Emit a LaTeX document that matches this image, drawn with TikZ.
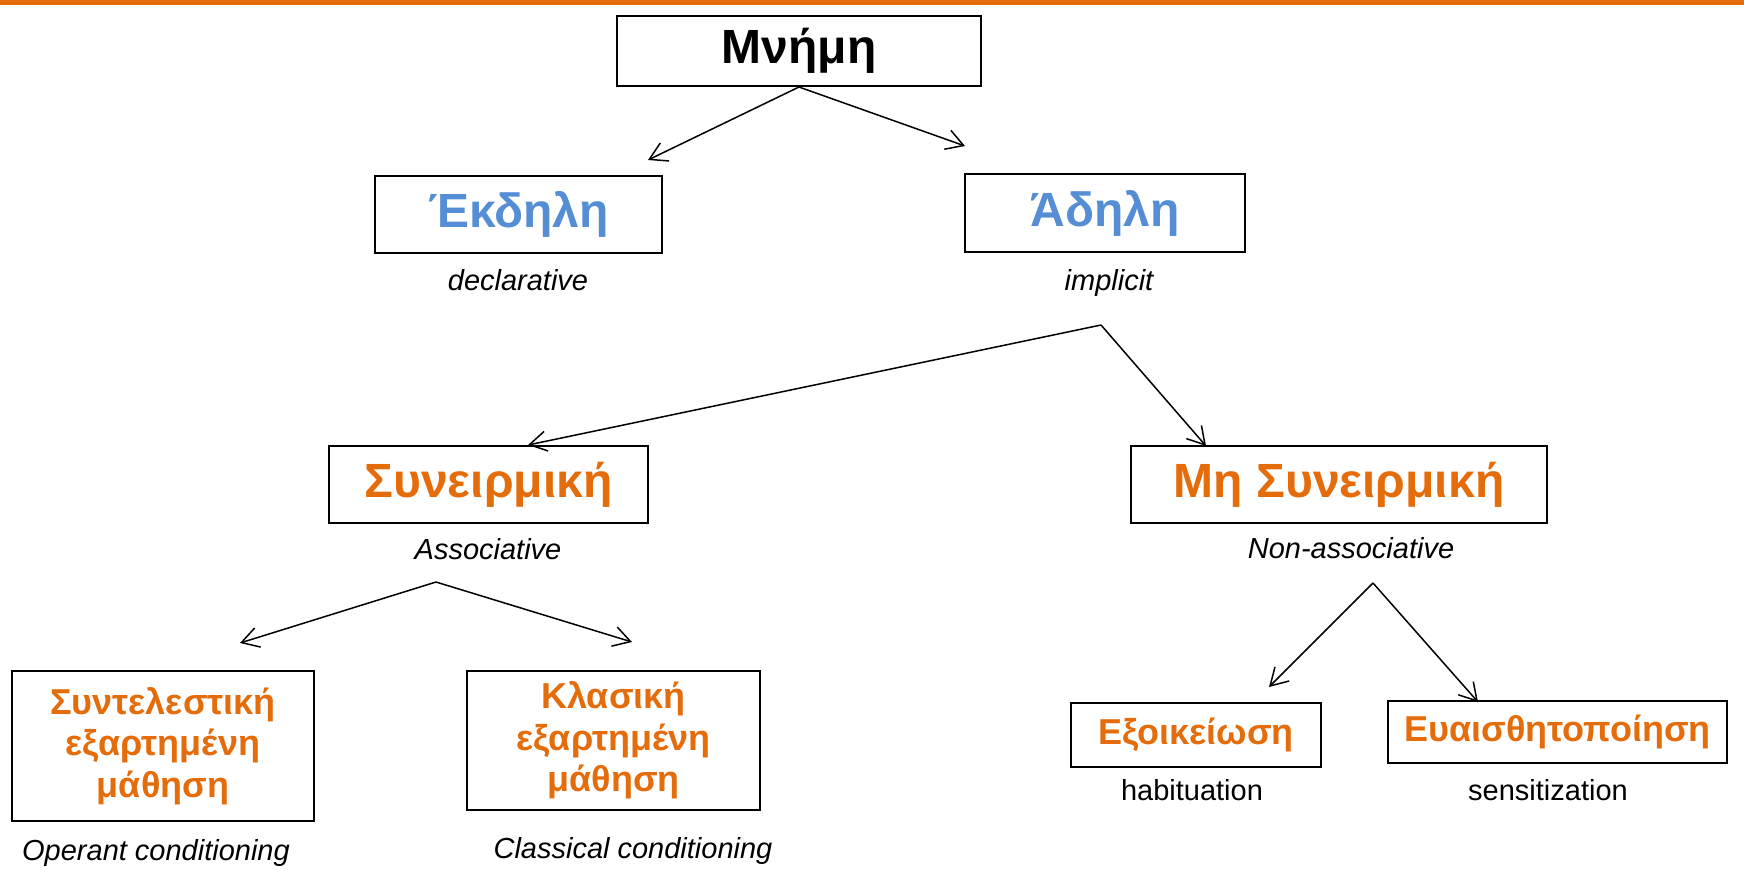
\documentclass[tikz,border=0pt]{standalone}
\usepackage{fontspec}
\setmainfont{Liberation Sans}
\usetikzlibrary{arrows.meta}
\definecolor{accent}{HTML}{E46C0A}
\definecolor{skyblue}{HTML}{558ED5}
\tikzset{
  box/.style={draw,line width=1pt,inner sep=0pt,align=center,font=\bfseries\fontsize{24}{28}\selectfont},
  smallbox/.style={box,font=\bfseries\fontsize{18}{20.8}\selectfont},
  lbl/.style={anchor=base,inner sep=0pt,font=\itshape\fontsize{14.5}{17}\selectfont},
  plainlbl/.style={lbl,font=\fontsize{14.5}{17}\selectfont},
  link/.style={line width=0.75pt,-{Straight Barb[length=8.5pt,width=10pt]}}
}
\begin{document}
\begin{tikzpicture}[x=0.5pt,y=-0.5pt]
\useasboundingbox (0,0) rectangle (1744,869);
\fill[accent] (0,0) rectangle (1744,4.5);

\node[box,minimum width=182pt,minimum height=35pt] (mnimi) at (799,51) {Μνήμη};
\node[box,text=skyblue,minimum width=143.5pt,minimum height=38.5pt] (ekdili) at (518.5,214.5) {Έκδηλη};
\node[box,text=skyblue,minimum width=140pt,minimum height=39pt] (adili) at (1105,213) {Άδηλη};
\node[lbl] (decl) at (518,290) {declarative};
\node[lbl] (impl) at (1109,290) {implicit};

\node[box,text=accent,minimum width=159.5pt,minimum height=38.5pt] (syn) at (488.5,484.5) {Συνειρμική};
\node[box,text=accent,minimum width=208pt,minimum height=38.5pt] (misyn) at (1339,484.5) {Μη Συνειρμική};
\node[lbl] (assoc) at (488,559) {Associative};
\node[lbl] (nonassoc) at (1351,558) {Non-associative};

\node[smallbox,text=accent,minimum width=151pt,minimum height=75pt] (syntel) at (163,746) {Συντελεστική\\εξαρτημένη\\μάθηση};
\node[smallbox,text=accent,minimum width=146.5pt,minimum height=69.5pt] (klasiki) at (613.5,740.5) {Κλασική\\εξαρτημένη\\μάθηση};
\node[lbl] (operant) at (156,860) {Operant conditioning};
\node[lbl] (classical) at (633,858) {Classical conditioning};

\node[smallbox,text=accent,minimum width=125pt,minimum height=32pt] (exo) at (1196,735) {Εξοικείωση};
\node[smallbox,text=accent,minimum width=169.5pt,minimum height=31pt] (evais) at (1557.5,732) {Ευαισθητοποίηση};
\node[plainlbl] (habit) at (1192,800) {habituation};
\node[plainlbl] (sensit) at (1548,800) {sensitization};

\coordinate (mEl) at (648,160);
\coordinate (mEr) at (965,146);
\coordinate (iTop) at (1101,325);
\coordinate (iEl) at (528,445);
\coordinate (iEr) at (1206,446);
\coordinate (aTop) at (436,582);
\coordinate (aEl) at (240,643);
\coordinate (aEr) at (632,642);
\coordinate (nTop) at (1373,583);
\coordinate (nEl) at (1269,687);
\coordinate (nEr) at (1478,702);

\draw[link] (mnimi.south) -- (mEl);
\draw[link] (mnimi.south) -- (mEr);
\draw[link] (iTop) -- (iEl);
\draw[link] (iTop) -- (iEr);
\draw[link] (aTop) -- (aEl);
\draw[link] (aTop) -- (aEr);
\draw[link] (nTop) -- (nEl);
\draw[link] (nTop) -- (nEr);
\end{tikzpicture}
\end{document}
